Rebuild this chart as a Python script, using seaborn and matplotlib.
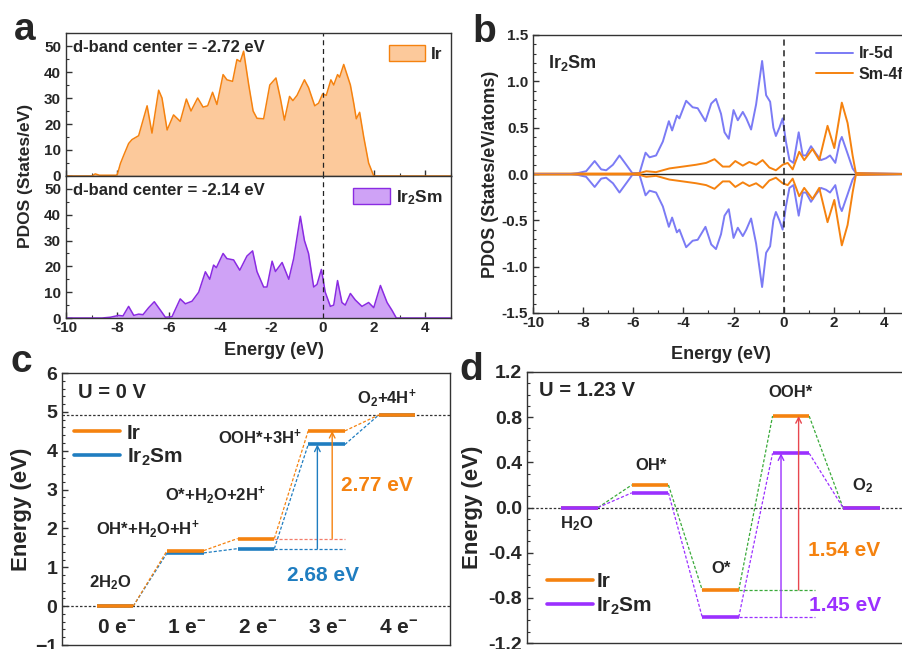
import numpy as np
import matplotlib
matplotlib.use('Agg')
import matplotlib.pyplot as plt
from matplotlib.ticker import MultipleLocator
from matplotlib.patches import Patch
from matplotlib.lines import Line2D
import seaborn as sns

# ---------------- data ----------------
# panel a: Ir d-band PDOS (energy in eV, states/eV)
ir_e = [-10, -9.0, -8.86, -8.7, -8.05, -8.0, -7.88, -7.75, -7.56, -7.43, -7.17, -6.84, -6.65,
        -6.39, -6.26, -6.06, -5.81, -5.55, -5.31, -5.13, -4.87, -4.66, -4.48, -4.29, -4.12,
        -3.88, -3.73, -3.51, -3.34, -3.21, -3.08, -2.88, -2.71, -2.56, -2.30, -2.06, -1.82,
        -1.65, -1.49, -1.29, -1.16, -1.00, -0.71, -0.55, -0.31, -0.16, 0.0, 0.14, 0.32, 0.43,
        0.58, 0.66, 0.82, 1.08, 1.21, 1.31, 1.44, 1.60, 1.79, 1.99, 5]
ir_dos = [0, 0, 0.8, 0.3, 0.3, 0.6, 4.8, 8, 12.5, 14, 15.5, 27, 16.5,
          33, 30, 17.7, 23.5, 21, 29.6, 25, 30, 26.5, 27, 32.2, 27.5,
          39, 37, 36.4, 44.8, 44, 48, 35, 25, 22.2, 22, 35, 37.7,
          30, 21.5, 30.6, 29, 31, 37, 34, 27, 28, 31.6, 31, 37, 35,
          39, 38, 42.9, 35, 28, 22, 24.5, 15, 5, 0, 0]

# panel a: Ir2Sm d-band PDOS
irsm_e = [-10, -8.6, -8.27, -7.95, -7.78, -7.56, -7.36, -7.17, -7.0, -6.78, -6.56, -6.32,
          -6.13, -5.87, -5.55, -5.35, -5.09, -4.83, -4.57, -4.40, -4.25, -4.14, -3.88, -3.73,
          -3.47, -3.23, -2.95, -2.73, -2.56, -2.30, -2.17, -1.97, -1.84, -1.58, -1.32, -1.13,
          -0.87, -0.71, -0.55, -0.35, -0.22, -0.05, 0.10, 0.30, 0.43, 0.58, 0.75, 0.88, 1.08,
          1.27, 1.53, 1.79, 1.99, 2.25, 2.51, 2.70, 2.87, 5]
irsm_dos = [0, 0, 0.3, 1, 0.8, 4.5, 1, 1.5, 1.3, 4, 6.3, 3,
            0.3, 0.5, 7.4, 5.5, 6.5, 10, 17.9, 15, 20.5, 19.5, 25, 23,
            22.5, 18.5, 24, 26, 18, 12, 12, 22, 18, 21.5, 15, 23,
            39.4, 30, 25, 12, 13, 18.8, 10, 4.5, 5, 14.5, 6, 5, 9.5,
            7, 4.5, 6, 4, 12.6, 6, 3, 0, 0]

# panel b: Ir2Sm projected DOS (spin up; spin down is the mirror)
ir5d_e = [-10, -8.5, -8.21, -7.88, -7.54, -7.28, -7.08, -6.81, -6.55, -6.28, -6.04, -5.75,
          -5.51, -5.35, -5.09, -4.82, -4.58, -4.45, -4.26, -4.16, -3.89, -3.63, -3.43, -3.12,
          -2.89, -2.70, -2.50, -2.36, -2.19, -2.0, -1.83, -1.63, -1.49, -1.30, -1.10, -0.86,
          -0.70, -0.54, -0.41, -0.31, -0.17, -0.04, 0.09, 0.23, 0.39, 0.60, 0.76, 0.89, 1.09,
          1.29, 1.49, 1.69, 1.85, 2.06, 2.24, 2.32, 2.55, 2.75, 2.88, 5]
ir5d_dos = [0, 0, 0.01, 0.03, 0.14, 0.05, 0.04, 0.10, 0.20, 0.10, 0.01, 0.01,
            0.23, 0.18, 0.20, 0.35, 0.57, 0.47, 0.63, 0.60, 0.79, 0.72, 0.71, 0.57,
            0.76, 0.81, 0.65, 0.45, 0.38, 0.69, 0.58, 0.67, 0.60, 0.48, 0.75, 1.22,
            0.85, 0.78, 0.50, 0.41, 0.50, 0.60, 0.35, 0.15, 0.12, 0.45, 0.20, 0.20, 0.30,
            0.22, 0.15, 0.17, 0.20, 0.12, 0.35, 0.40, 0.22, 0.06, 0.01, 0]

sm4f_e = [-10, -6.0, -5.75, -5.48, -5.09, -4.56, -4.02, -3.49, -3.09, -2.76, -2.43, -2.16,
          -1.93, -1.63, -1.37, -1.10, -0.84, -0.57, -0.31, -0.04, 0.16, 0.36, 0.62, 0.82,
          1.15, 1.42, 1.75, 2.02, 2.32, 2.55, 2.75, 2.88, 5]
sm4f_dos = [0.005, 0.005, 0.01, 0.03, 0.02, 0.06, 0.08, 0.10, 0.12, 0.16, 0.08, 0.08,
            0.14, 0.09, 0.13, 0.10, 0.15, 0.07, 0.04, 0.10, 0.12, 0.05, 0.24, 0.15,
            0.27, 0.15, 0.52, 0.28, 0.77, 0.55, 0.20, 0.01, 0]

# panel c: free energy at U = 0 V (eV)
steps_c = ['0 e$^{-}$', '1 e$^{-}$', '2 e$^{-}$', '3 e$^{-}$', '4 e$^{-}$']
species_c = ['2H$_{2}$O', 'OH*+H$_{2}$O+H$^{+}$', 'O*+H$_{2}$O+2H$^{+}$', 'OOH*+3H$^{+}$',
             'O$_{2}$+4H$^{+}$']
g_ir_0 = [0, 1.43, 1.74, 4.51, 4.92]
g_irsm_0 = [0, 1.37, 1.48, 4.16, 4.92]

# panel d: free energy at U = 1.23 V (eV)
species_d = ['H$_{2}$O', 'OH*', 'O*', 'OOH*', 'O$_{2}$']
g_ir_u = [0, 0.20, -0.73, 0.81, 0]
g_irsm_u = [0, 0.13, -0.97, 0.48, 0]

# ---------------- style ----------------
sns.set_style('ticks')
plt.rcParams['font.family'] = ['Liberation Sans', 'DejaVu Sans']
plt.rcParams['font.weight'] = 'bold'
plt.rcParams['axes.labelweight'] = 'bold'
plt.rcParams['mathtext.fontset'] = 'custom'
plt.rcParams['mathtext.rm'] = 'Liberation Sans:bold'
plt.rcParams['mathtext.bf'] = 'Liberation Sans:bold'
plt.rcParams['mathtext.it'] = 'Liberation Sans:bold'
plt.rcParams['mathtext.default'] = 'rm'
plt.rcParams['xtick.direction'] = 'in'
plt.rcParams['ytick.direction'] = 'in'
plt.rcParams['axes.edgecolor'] = '#333333'
plt.rcParams['axes.linewidth'] = 1.0

ORANGE = '#F5820F'
ORANGE_FILL = '#FCC99B'
PURPLE_FILL = '#CFA2F6'
PURPLE_EDGE = '#8A2BE2'
PERI = '#7B7BF5'
BLUE = '#1F7DC0'
VIOLET = '#9B30FF'
GREEN = '#3AAA3A'
RED = '#E8474F'

W, H = 903, 649
fig = plt.figure(figsize=(W / 100, H / 100), dpi=100)


def box(l, t, r, b):
    return [l / W, 1 - b / H, (r - l) / W, (b - t) / H]


def style_ticks(ax, size):
    ax.tick_params(which='major', length=4, width=1, labelsize=size, color='#333333')
    ax.tick_params(which='minor', length=2, width=0.8, color='#333333')
    for lab in ax.get_xticklabels() + ax.get_yticklabels():
        lab.set_fontweight('bold')


# ---------------- panel a ----------------
ax_a1 = fig.add_axes(box(66, 33, 451, 176))
ax_a2 = fig.add_axes(box(66, 176, 451, 318))

for ax, e, d, fc, ec, lab, txt in [
        (ax_a1, ir_e, ir_dos, ORANGE_FILL, ORANGE, 'Ir', 'd-band center = -2.72 eV'),
        (ax_a2, irsm_e, irsm_dos, PURPLE_FILL, PURPLE_EDGE, 'Ir$_{2}$Sm', 'd-band center = -2.14 eV')]:
    ax.fill_between(e, 0, d, color=fc, lw=0)
    sns.lineplot(x=e, y=d, ax=ax, color=ec, lw=1.1, sort=False)
    ax.axvline(0, color='#222222', ls=(0, (4, 3)), lw=0.9)
    ax.set_xlim(-10, 5)
    ax.set_ylim(0, 55)
    ax.xaxis.set_major_locator(MultipleLocator(2))
    ax.xaxis.set_minor_locator(MultipleLocator(1))
    ax.yaxis.set_major_locator(MultipleLocator(10))
    ax.yaxis.set_minor_locator(MultipleLocator(5))
    ax.text(0.018, 0.9, txt, transform=ax.transAxes, fontsize=12, fontweight='bold',
            va='center', ha='left')
    ax.legend(handles=[Patch(facecolor=fc, edgecolor=ec, lw=1, label=lab)], loc='upper right',
              bbox_to_anchor=(1.01, 1.0), frameon=False, fontsize=12.5, handlelength=2.1,
              handleheight=1.05, handletextpad=0.35, borderaxespad=0.3)
    ax.set_xlabel('')
    ax.set_ylabel('')
    style_ticks(ax, 11)

ax_a1.tick_params(labelbottom=False)
ax_a2.set_xticks(range(-10, 5, 2))
ax_a2.set_xticklabels([str(v) for v in range(-10, 5, 2)])
style_ticks(ax_a2, 11)
ax_a2.tick_params(axis='x', pad=2)
ax_a2.set_xlabel('Energy (eV)', fontsize=13, fontweight='bold', labelpad=1)
ax_a2.xaxis.set_label_coords(0.54, -0.17)
fig.text(26 / W, 1 - 176 / H, 'PDOS (States/eV)', rotation=90, fontsize=12.5,
         fontweight='bold', ha='center', va='center')

# ---------------- panel b ----------------
ax_b = fig.add_axes(box(533, 35, 909, 313))
e5 = np.array(ir5d_e)
d5 = np.array(ir5d_dos)
e4 = np.array(sm4f_e)
d4 = np.array(sm4f_dos)
sns.lineplot(x=e5, y=d5, ax=ax_b, color=PERI, lw=1.4, sort=False, label='Ir-5d')
sns.lineplot(x=e4, y=d4, ax=ax_b, color=ORANGE, lw=1.4, sort=False, label='Sm-4f')
sns.lineplot(x=e5, y=-d5, ax=ax_b, color=PERI, lw=1.4, sort=False)
sns.lineplot(x=e4, y=-d4, ax=ax_b, color=ORANGE, lw=1.4, sort=False)
ax_b.axhline(0, color='#222222', lw=1.0, zorder=1)
ax_b.axvline(0, color='#222222', ls=(0, (4, 3)), lw=1.1)
ax_b.set_xlim(-10, 5)
ax_b.set_ylim(-1.5, 1.5)
ax_b.xaxis.set_major_locator(MultipleLocator(2))
ax_b.xaxis.set_minor_locator(MultipleLocator(1))
ax_b.yaxis.set_major_locator(MultipleLocator(0.5))
ax_b.yaxis.set_minor_locator(MultipleLocator(0.1))
ax_b.set_yticks([-1.5, -1.0, -0.5, 0.0, 0.5, 1.0, 1.5])
ax_b.set_yticklabels(['-1.5', '-1.0', '-0.5', '0.0', '0.5', '1.0', '1.5'])
ax_b.set_xticks(range(-10, 5, 2))
ax_b.set_xticklabels([str(v) for v in range(-10, 5, 2)])
ax_b.text(0.04, 0.9, 'Ir$_{2}$Sm', transform=ax_b.transAxes, fontsize=13, fontweight='bold',
          ha='left', va='center')
ax_b.legend(loc='upper right', bbox_to_anchor=(1.015, 1.0), frameon=False, fontsize=11.5,
            handlelength=2.3, handletextpad=0.35, labelspacing=0.35, borderaxespad=0.3)
ax_b.set_xlabel('Energy (eV)', fontsize=13, fontweight='bold')
ax_b.xaxis.set_label_coords(0.5, -0.12)
ax_b.set_ylabel('PDOS (States/eV/atoms)', fontsize=13, fontweight='bold', labelpad=2)
style_ticks(ax_b, 11)
ax_b.tick_params(axis='x', pad=2)

# ---------------- panel c ----------------
ax_c = fig.add_axes(box(62, 373, 450, 645))
hw = 0.26
x = np.arange(len(steps_c))
for vals, col, hcol in [(g_irsm_0, BLUE, BLUE), (g_ir_0, ORANGE, '#F37C6A')]:
    ax_c.hlines(vals, x - hw, x + hw, color=col, lw=2.6, zorder=3)
    for i in range(len(vals) - 1):
        ax_c.plot([x[i] + hw, x[i + 1] - hw], [vals[i], vals[i + 1]], color=col,
                  ls=(0, (2.5, 1.5)), lw=0.9, zorder=2)
    ax_c.plot([x[2] + hw, x[3] + hw], [vals[2], vals[2]], color=hcol, ls=(0, (2.5, 1.5)),
              lw=0.9, zorder=2)
ax_c.axhline(0, color='#333333', ls=(0, (2, 1.5)), lw=0.9, zorder=1)
ax_c.axhline(g_ir_0[-1], color='#333333', ls=(0, (2, 1.5)), lw=0.9, zorder=1)
ax_c.annotate('', xy=(3.08, g_ir_0[3]), xytext=(3.08, g_ir_0[2]),
              arrowprops=dict(arrowstyle='->', color=ORANGE, lw=1.0, shrinkA=0, shrinkB=0))
ax_c.annotate('', xy=(2.87, g_irsm_0[3]), xytext=(2.87, g_irsm_0[2]),
              arrowprops=dict(arrowstyle='->', color=BLUE, lw=1.0, shrinkA=0, shrinkB=0))
ax_c.text(3.72, 3.1, '%.2f eV' % (g_ir_0[3] - g_ir_0[2]), color=ORANGE, fontsize=15,
          fontweight='bold', ha='center', va='center')
ax_c.text(2.95, 0.8, '%.2f eV' % (g_irsm_0[3] - g_irsm_0[2]), color=BLUE, fontsize=15,
          fontweight='bold', ha='center', va='center')
lab_pos_c = [(-0.07, 0.6), (0.47, 1.98), (1.42, 2.85), (2.06, 4.34), (3.86, 5.35)]
for s, (px, py) in zip(species_c, lab_pos_c):
    ax_c.text(px, py, s, fontsize=12, fontweight='bold', ha='center', va='center')
for i, s in enumerate(steps_c):
    ax_c.text(x[i] + 0.02, -0.55, s, fontsize=15, fontweight='bold', ha='center', va='center')
ax_c.text(0.04, 0.93, 'U = 0 V', transform=ax_c.transAxes, fontsize=14.5, fontweight='bold',
          ha='left', va='center')
ax_c.legend(handles=[Line2D([], [], color=ORANGE, lw=2.6, label='Ir'),
                     Line2D([], [], color=BLUE, lw=2.6, label='Ir$_{2}$Sm')],
            loc='upper left', bbox_to_anchor=(0.0, 0.86), frameon=False, fontsize=15,
            handlelength=2.2, handletextpad=0.3, labelspacing=0.2, borderaxespad=0.2)
ax_c.set_xlim(-0.75, 4.75)
ax_c.set_ylim(-1, 6)
ax_c.set_xticks([])
ax_c.yaxis.set_major_locator(MultipleLocator(1))
ax_c.yaxis.set_minor_locator(MultipleLocator(0.2))
ax_c.set_ylabel('Energy (eV)', fontsize=16, fontweight='bold', labelpad=2)
style_ticks(ax_c, 14)

# ---------------- panel d ----------------
ax_d = fig.add_axes(box(527, 372, 914, 643))
xd = np.arange(len(species_d))
hw = 0.26
for vals, col, ccol in [(g_ir_u, ORANGE, GREEN), (g_irsm_u, VIOLET, VIOLET)]:
    ax_d.hlines(vals, xd - hw, xd + hw, color=col, lw=2.6, zorder=3)
    for i in range(len(vals) - 1):
        ax_d.plot([xd[i] + hw, xd[i + 1] - hw], [vals[i], vals[i + 1]], color=ccol,
                  ls=(0, (2.5, 1.5)), lw=0.9, zorder=2)
    ax_d.plot([xd[2] + hw, 3.34], [vals[2], vals[2]], color=ccol, ls=(0, (2.5, 1.5)),
              lw=0.9, zorder=2)
ax_d.axhline(0, color='#333333', ls=(0, (2, 1.5)), lw=0.9, zorder=1)
ax_d.annotate('', xy=(3.11, g_ir_u[3]), xytext=(3.11, g_ir_u[2]),
              arrowprops=dict(arrowstyle='->', color=RED, lw=1.0, shrinkA=0, shrinkB=0))
ax_d.annotate('', xy=(2.86, g_irsm_u[3]), xytext=(2.86, g_irsm_u[2]),
              arrowprops=dict(arrowstyle='->', color=VIOLET, lw=1.0, shrinkA=0, shrinkB=0))
ax_d.text(3.24, -0.38, '%.2f eV' % (g_ir_u[3] - g_ir_u[2]), color=ORANGE, fontsize=15,
          fontweight='bold', ha='left', va='center')
ax_d.text(3.26, -0.87, '%.2f eV' % (g_irsm_u[3] - g_irsm_u[2]), color=VIOLET, fontsize=15,
          fontweight='bold', ha='left', va='center')
lab_pos_d = [(-0.05, -0.14), (1.02, 0.37), (2.01, -0.54), (3.0, 1.02), (4.02, 0.195)]
for s, (px, py) in zip(species_d, lab_pos_d):
    ax_d.text(px, py, s, fontsize=12, fontweight='bold', ha='center', va='center')
ax_d.text(0.03, 0.93, 'U = 1.23 V', transform=ax_d.transAxes, fontsize=14.5, fontweight='bold',
          ha='left', va='center')
ax_d.legend(handles=[Line2D([], [], color=ORANGE, lw=2.6, label='Ir'),
                     Line2D([], [], color=VIOLET, lw=2.6, label='Ir$_{2}$Sm')],
            loc='lower left', bbox_to_anchor=(0.02, 0.05), frameon=False, fontsize=15,
            handlelength=2.2, handletextpad=0.15, labelspacing=0.2, borderaxespad=0.2)
ax_d.set_xlim(-0.75, 4.75)
ax_d.set_ylim(-1.2, 1.2)
ax_d.set_xticks([])
ax_d.set_yticks([-1.2, -0.8, -0.4, 0.0, 0.4, 0.8, 1.2])
ax_d.set_yticklabels(['-1.2', '-0.8', '-0.4', '0.0', '0.4', '0.8', '1.2'])
ax_d.yaxis.set_minor_locator(MultipleLocator(0.1))
ax_d.set_ylabel('Energy (eV)', fontsize=16, fontweight='bold', labelpad=4)
style_ticks(ax_d, 14)

# panel letters
for letter, px, py in [('a', 14, 40), ('b', 472, 42), ('c', 11, 372), ('d', 459, 380)]:
    fig.text(px / W, 1 - py / H, letter, fontsize=28, fontweight='bold', ha='left',
             va='baseline')

fig.savefig('out.png', dpi=100)
